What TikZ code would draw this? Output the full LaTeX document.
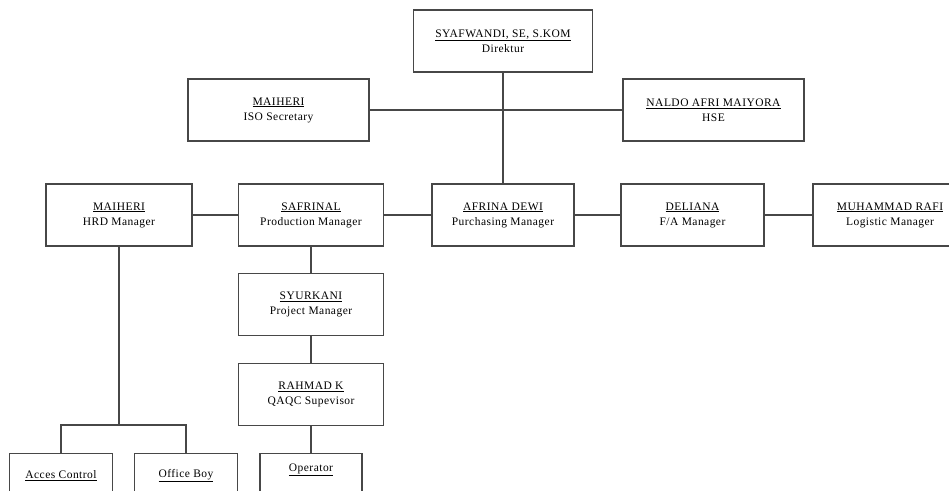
\documentclass[tikz,border=0pt]{standalone}
\usepackage{fontspec}
\setmainfont[LetterSpace=4]{Liberation Serif}
\begin{document}
\begin{tikzpicture}[x=1pt,y=-1pt,
  box/.style={draw=black!72, line width=1.2pt, fill=white, align=center,
    font=\fontsize{11.5}{15}\selectfont, inner sep=0pt, minimum height=62pt},
  lbl/.style={font=\fontsize{11.5}{15}\selectfont, inner sep=0pt},
  conn/.style={draw=black!72, line width=1.2pt}]
\useasboundingbox (0,0) rectangle (949,490);
\clip (0,0) rectangle (949,490);
% top
\node[box, minimum width=179pt] (dir) at (503,41) {\underline{SYAFWANDI, SE, S.KOM}\\Direktur};
\node[box, minimum width=181pt] (iso) at (278.5,110) {\underline{MAIHERI}\\ISO Secretary};
\node[box, minimum width=181pt] (hse) at (713.5,110) {\underline{NALDO AFRI MAIYORA}\\HSE};
% row 2
\node[box, minimum width=146pt] (hrd) at (119,215) {\underline{MAIHERI}\\HRD Manager};
\node[box, minimum width=145pt] (prod) at (311,215) {\underline{SAFRINAL}\\Production Manager};
\node[box, minimum width=142pt] (pur) at (503,215) {\underline{AFRINA DEWI}\\Purchasing Manager};
\node[box, minimum width=143pt] (fa) at (692.5,215) {\underline{DELIANA}\\F/A Manager};
\node[box, minimum width=154pt] (log) at (890,215) {\underline{MUHAMMAD RAFI}\\Logistic Manager};
% column
\node[box, minimum width=145pt] (proj) at (311,304.5) {\underline{SYURKANI}\\Project Manager};
\node[box, minimum width=145pt] (qaqc) at (311,394.5) {\underline{RAHMAD K}\\QAQC Supevisor};
% bottom
\node[box, minimum width=103pt, anchor=north] (acc) at (61,453) {};
\node[lbl] (acct) at (61,476) {\underline{Acces Control}};
\node[box, minimum width=103pt, anchor=north] (ob) at (186,453) {};
\node[lbl] (obt) at (186,476) {\underline{Office Boy}};
\node[box, minimum width=102pt, anchor=north] (op) at (311,453) {};
\node[lbl] (opt) at (311,470) {\underline{Operator}};
% connectors
\draw[conn] (dir.south) -- (pur.north);
\draw[conn] (iso.east) -- (hse.west);
\draw[conn] (hrd.east) -- (prod.west);
\draw[conn] (prod.east) -- (pur.west);
\draw[conn] (pur.east) -- (fa.west);
\draw[conn] (fa.east) -- (log.west);
\draw[conn] (prod.south) -- (proj.north);
\draw[conn] (proj.south) -- (qaqc.north);
\draw[conn] (qaqc.south) -- (op.north);
\coordinate (hb) at (119,425);
\draw[conn] (hrd.south) -- (hb);
\draw[conn] (acc.north) |- (hb) -| (ob.north);
\end{tikzpicture}
\end{document}
